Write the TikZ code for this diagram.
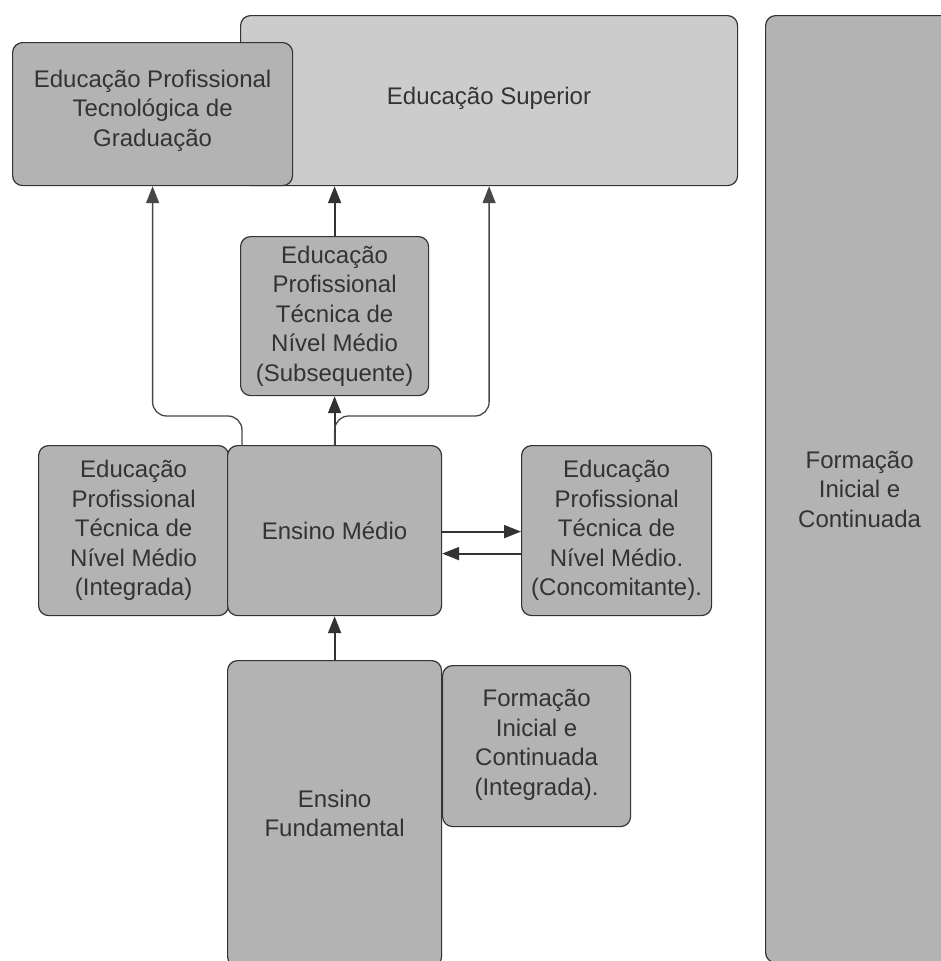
\documentclass[tikz,border=0pt]{standalone}
\usepackage{fontspec}
\setmainfont{Liberation Sans}
\usetikzlibrary{arrows.meta,calc}
\definecolor{boxdark}{HTML}{B3B3B3}
\definecolor{boxlight}{HTML}{CCCCCC}
\definecolor{edge}{HTML}{333333}
\definecolor{ink}{HTML}{333333}
\definecolor{sideline}{HTML}{474747}
\tikzset{
  block/.style={draw=edge, fill=boxdark, line width=1.2pt, rounded corners=10pt,
    inner sep=0pt, anchor=north west, text=ink, align=center,
    font=\fontsize{24}{29.5}\selectfont},
  lightblock/.style={block, fill=boxlight},
  tip/.style={-{Triangle[length=17pt,width=13pt]}},
  mainarrow/.style={tip, draw=edge, line width=2pt},
  sidearrow/.style={tip, draw=sideline, line width=1.3pt, rounded corners=14pt},
}
\begin{document}
\begin{tikzpicture}[x=1pt,y=-1pt]
\useasboundingbox (0,0) rectangle (941,961);
\clip (0,0) rectangle (941,961);

% upper level
\node[lightblock, minimum width=497pt, minimum height=170pt] (sup) at (240,15) {};
\node[font=\fontsize{24}{29.5}\selectfont, text=ink] at (489,98) {Educação Superior};
\node[block, minimum width=280pt, minimum height=143pt] (ept) at (12,42)
  {Educação Profissional\\Tecnológica de\\Graduação\\[-17.5pt]};

% right column
\node[block, minimum width=188pt, minimum height=947pt] (ficr) at (765,15)
  {Formação\\Inicial e\\Continuada};

% middle level
\node[block, minimum width=188pt, minimum height=159pt] (sub) at (240,236)
  {Educação\\Profissional\\Técnica de\\Nível Médio\\(Subsequente)};
\node[block, minimum width=190pt, minimum height=170pt] (integ) at (38,445)
  {Educação\\Profissional\\Técnica de\\Nível Médio\\(Integrada)};
\node[block, minimum width=214pt, minimum height=170pt] (em) at (227,445)
  {Ensino Médio};
\node[block, minimum width=190pt, minimum height=170pt] (conc) at (521,445)
  {Educação\\Profissional\\Técnica de\\Nível Médio.\\(Concomitante).};

% lower level
\node[block, minimum width=214pt, minimum height=306pt] (ef) at (227,660)
  {Ensino\\Fundamental};
\node[block, minimum width=188pt, minimum height=161pt] (fic) at (442,665)
  {Formação\\Inicial e\\Continuada\\(Integrada).\\[-22.5pt]};

% connectors
\draw[mainarrow] (ef.north) -- (em.south);
\draw[mainarrow] (em.north) -- (sub.south);
\draw[mainarrow] (sub.north) -- (sub.north |- sup.south);
\draw[mainarrow] ([yshift=-1pt]em.east) -- ([yshift=-1pt]em.east -| conc.west);
\draw[mainarrow] ([yshift=-23pt]em.east -| conc.west) -- ([yshift=-23pt]em.east);
\draw[sidearrow] ([xshift=15pt]em.north west) -- ++(0,-29) -| (ept.south);
\draw[sidearrow] (em.north) -- ++(0,-29) -| (sup.south);
\end{tikzpicture}
\end{document}
